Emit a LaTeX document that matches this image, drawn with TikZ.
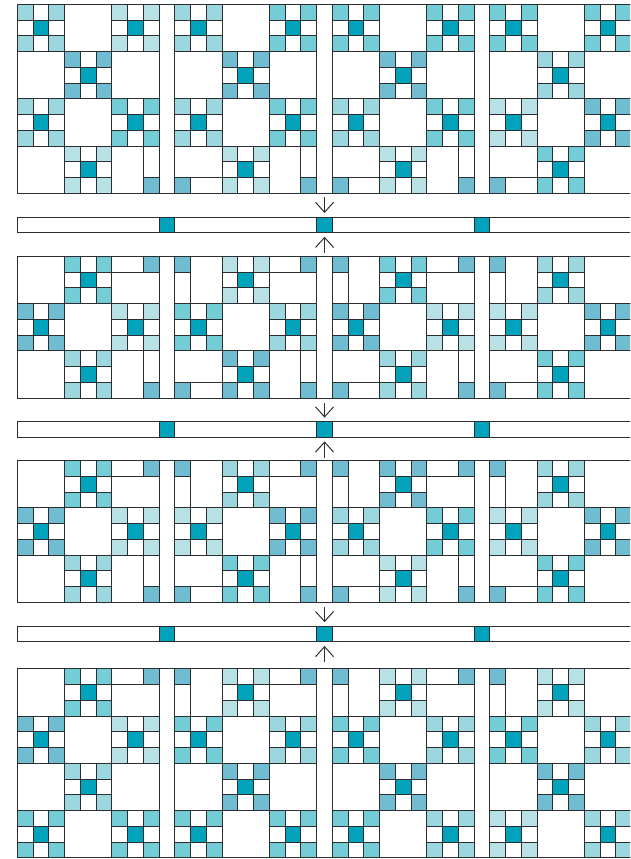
\documentclass[tikz,border=0pt]{standalone}
\usetikzlibrary{arrows.meta}
\definecolor{qa}{HTML}{B8E1E6}
\definecolor{qb}{HTML}{9CD7DF}
\definecolor{qc}{HTML}{74CDD6}
\definecolor{qd}{HTML}{70BCD1}
\definecolor{qm}{HTML}{00A3BB}
\definecolor{qline}{HTML}{2A2E30}
\tikzset{
  ln/.style={draw=qline,line width=0.98pt,fill=white},
  tint/.style={draw=qline,line width=0.98pt,fill=#1},
  sashsq/.style={draw=qline,line width=0.98pt,fill=qm,minimum size=15.75pt,inner sep=0pt,outer sep=0pt,rectangle},
  arr/.style={draw=qline,line width=0.98pt,-{Straight Barb[length=10pt,width=18pt,line width=0.98pt]}},
}
% block drawing macros; local origin = block top left, unit = one cell
\newcommand{\NPatch}[3]{\begin{scope}[shift={(#1,#2)}]
  \foreach \i in {0,1,2}{\foreach \j in {0,1,2}{\path[ln] (\i,\j) rectangle +(1,1);}}
  \path[tint=#3] (0,0) rectangle +(1,1);
  \path[tint=#3] (2,0) rectangle +(1,1);
  \path[tint=#3] (0,2) rectangle +(1,1);
  \path[tint=#3] (2,2) rectangle +(1,1);
  \path[tint=qm] (1,1) rectangle +(1,1);
\end{scope}}
\newcommand{\WBlock}[2]{\path[ln] (#1,#2) rectangle +(3,3);}
\newcommand{\TRBlock}[2]{\begin{scope}[shift={(#1,#2)}]
  \path[ln] (0,0) rectangle (2,1);\path[tint=qd] (2,0) rectangle (3,1);\path[ln] (0,1) rectangle (3,3);
\end{scope}}
\newcommand{\TLBlock}[2]{\begin{scope}[shift={(#1,#2)}]
  \path[tint=qd] (0,0) rectangle (1,1);\path[ln] (0,1) rectangle (1,3);\path[ln] (1,0) rectangle (3,3);
\end{scope}}
\newcommand{\BRBlock}[2]{\begin{scope}[shift={(#1,#2)}]
  \path[ln] (0,0) rectangle (2,3);\path[ln] (2,0) rectangle (3,2);\path[tint=qd] (2,2) rectangle (3,3);
\end{scope}}
\newcommand{\BLBlock}[2]{\begin{scope}[shift={(#1,#2)}]
  \path[ln] (0,0) rectangle (3,2);\path[tint=qd] (0,2) rectangle (1,3);\path[ln] (1,2) rectangle (3,3);
\end{scope}}
% rows of blocks
\newcommand{\RowNWN}[2]{\foreach \g/\a/\b in {#2}{
  \pgfmathsetmacro{\gx}{\g*10}\pgfmathsetmacro{\gy}{\gx+3}\pgfmathsetmacro{\gz}{\gx+6}
  \NPatch{\gx}{#1}{\a}\WBlock{\gy}{#1}\NPatch{\gz}{#1}{\b}}}
\newcommand{\RowWNW}[5]{\foreach \g/\a in {0/#2,1/#3,2/#4,3/#5}{
  \pgfmathsetmacro{\gx}{\g*10}\pgfmathsetmacro{\gy}{\gx+3}\pgfmathsetmacro{\gz}{\gx+6}
  \WBlock{\gx}{#1}\NPatch{\gy}{#1}{\a}\WBlock{\gz}{#1}}}
\newcommand{\RowTop}[5]{\WBlock{0}{#1}\WBlock{36}{#1}
  \TRBlock{6}{#1}\TLBlock{10}{#1}\TRBlock{16}{#1}\TLBlock{20}{#1}\TRBlock{26}{#1}\TLBlock{30}{#1}
  \NPatch{3}{#1}{#2}\NPatch{13}{#1}{#3}\NPatch{23}{#1}{#4}\NPatch{33}{#1}{#5}}
\newcommand{\RowBot}[5]{\WBlock{0}{#1}\WBlock{36}{#1}
  \BRBlock{6}{#1}\BLBlock{10}{#1}\BRBlock{16}{#1}\BLBlock{20}{#1}\BRBlock{26}{#1}\BLBlock{30}{#1}
  \NPatch{3}{#1}{#2}\NPatch{13}{#1}{#3}\NPatch{23}{#1}{#4}\NPatch{33}{#1}{#5}}
% vertical sashing between groups
\newcommand{\VSash}[1]{\foreach \k in {9,19,29}{\path[ln] (\k,0) rectangle (\k+1,#1);}}
\begin{document}
\begin{tikzpicture}[x=1pt,y=1pt]
\useasboundingbox (0,0) rectangle (630,-859);
\clip (0,0) rectangle (630,-859);
\fill[white] (0,0) rectangle (630,-859);
\begin{scope}[x=15.75pt,y=-15.75pt]
% panel 1
\begin{scope}[shift={(1.098,0.273)}]
  \VSash{12}
  \RowNWN{0}{0/qb/qa,1/qb/qc,2/qc/qc,3/qc/qc}
  \RowWNW{3}{qd}{qd}{qd}{qb}
  \RowNWN{6}{0/qb/qc,1/qb/qc,2/qb/qc,3/qa/qd}
  \RowBot{9}{qa}{qa}{qa}{qc}
\end{scope}
% panel 2
\begin{scope}[shift={(1.098,16.27)}]
  \VSash{9}
  \RowTop{0}{qc}{qa}{qc}{qb}
  \RowNWN{3}{0/qd/qa,1/qc/qb,2/qd/qa,3/qa/qd}
  \RowBot{6}{qb}{qd}{qb}{qc}
\end{scope}
% panel 3
\begin{scope}[shift={(1.098,29.25)}]
  \VSash{9}
  \RowTop{0}{qc}{qb}{qd}{qb}
  \RowNWN{3}{0/qd/qa,1/qa/qd,2/qb/qc,3/qa/qd}
  \RowBot{6}{qb}{qc}{qa}{qc}
\end{scope}
% panel 4
\begin{scope}[shift={(1.098,42.46)}]
  \VSash{12}
  \RowTop{0}{qc}{qa}{qa}{qa}
  \RowNWN{3}{0/qd/qa,1/qc/qb,2/qc/qb,3/qc/qb}
  \RowWNW{6}{qb}{qd}{qd}{qd}
  \RowNWN{9}{0/qc/qc,1/qc/qc,2/qc/qb,3/qa/qb}
\end{scope}
\end{scope}
% horizontal sashing strips
\foreach \s/\yt in {1/217,2/421.6,3/626.2}{
  \path[ln] (17.3,-\yt) rectangle (640,-\yt-15.75);
  \node[sashsq] (s\s a) at (167.05,-\yt-7.875) {};
  \node[sashsq] (s\s b) at (324.55,-\yt-7.875) {};
  \node[sashsq] (s\s c) at (482.05,-\yt-7.875) {};
}
% arrows
\coordinate (t1) at (324.55,-197);
\coordinate (u1) at (324.55,-252.7);
\coordinate (t2) at (324.55,-403.3);
\coordinate (u2) at (324.55,-458.3);
\coordinate (t3) at (324.55,-607.3);
\coordinate (u3) at (324.55,-661.7);
\foreach \s in {1,2,3}{
  \draw[arr] (t\s) -- ([yshift=4pt]s\s b.north);
  \draw[arr] (u\s) -- ([yshift=-4pt]s\s b.south);
}
\end{tikzpicture}
\end{document}
